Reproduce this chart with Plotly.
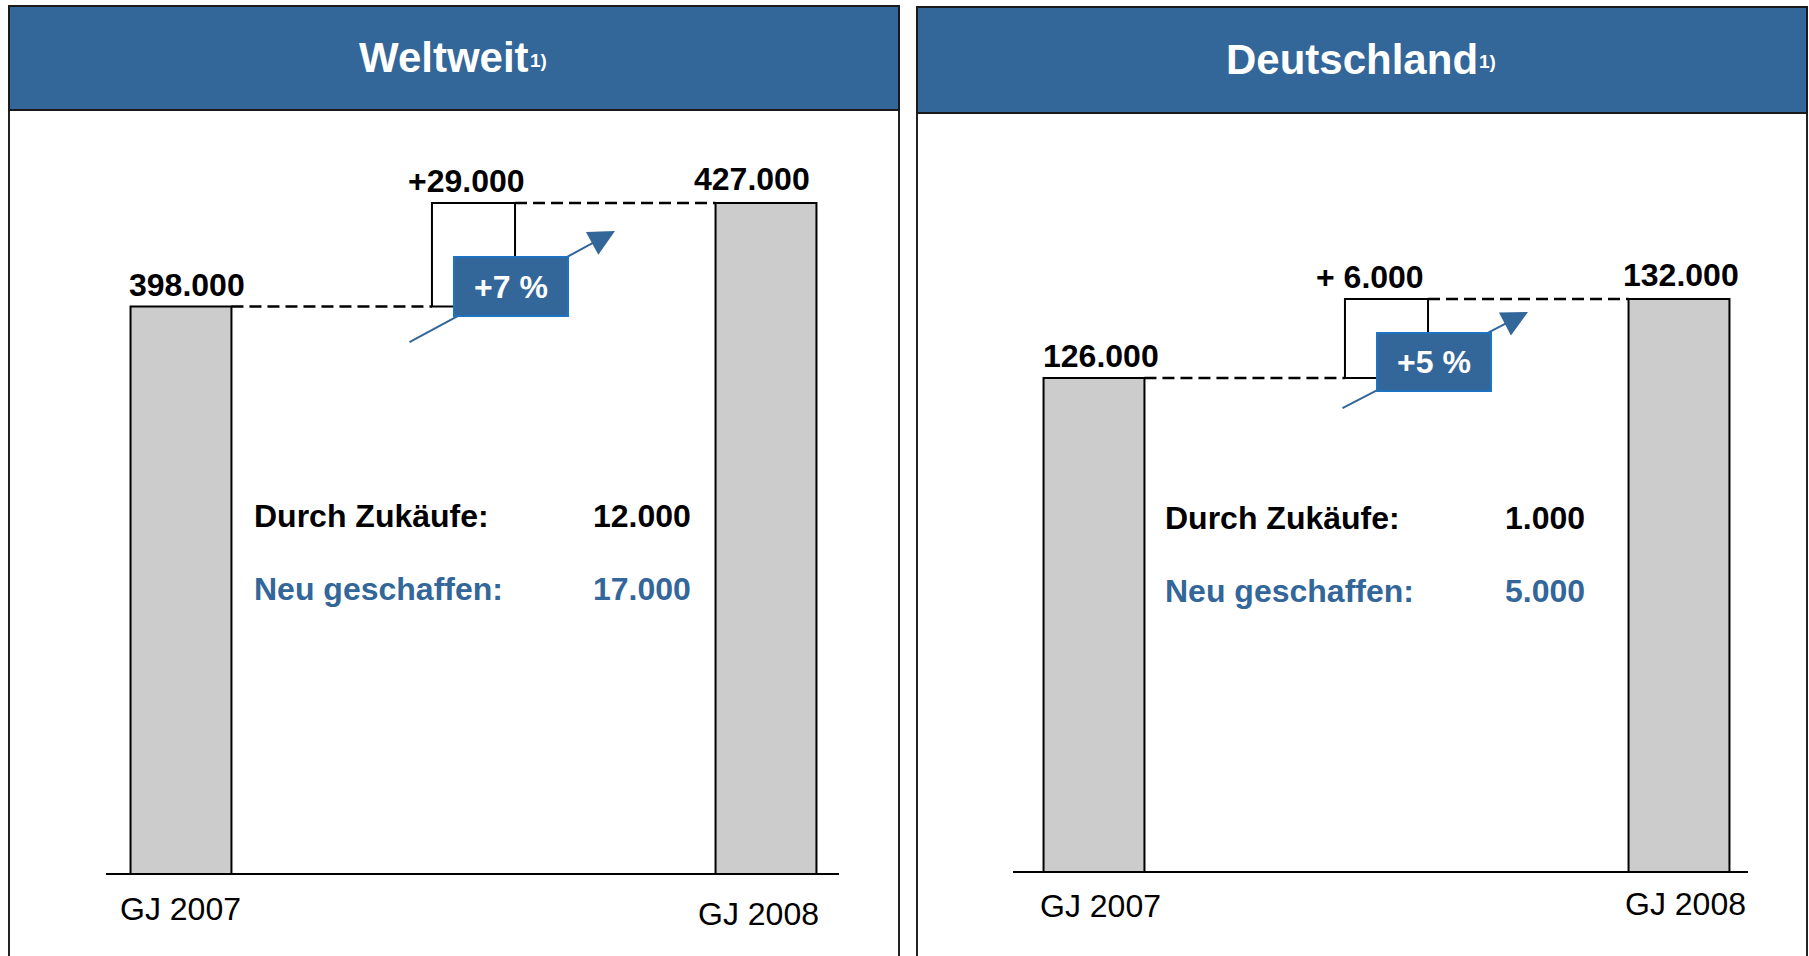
import plotly.graph_objects as go

# ---------------- data ----------------
panels = ["Weltweit", "Deutschland"]
years = ["GJ 2007", "GJ 2008"]
values_2007 = [398000, 126000]
values_2008 = [427000, 132000]
delta_labels = ["+29.000", "+ 6.000"]
pct_labels = ["+7 %", "+5 %"]
zukaeufe = [12000, 1000]
neu_geschaffen = [17000, 5000]

W, H = 1809, 956
FONT = "Liberation Sans, Arial, sans-serif"
BLUE = "#336699"
BOX_BORDER = "#1f74c2"
GREY = "#cccccc"
FS = 32


def px(x):
    return x / W


def py(y):
    return (H - y) / H


def fmt(v):
    return f"{v:,}".replace(",", ".")


BAR_W = 0.345
DELTA_W = 0.284

# layout geometry per panel (pixels)
geo = [
    dict(frame=(9, 899, 6, 110), xdom=(106, 839), xrange=(-0.2564, 2.2496),
         ydom=(873, 120), yrange=(239272, 450256),
         title_right=531, title_y=57, sup_y=61,
         label_shift=[(6, 0), (-7, 0), (-14, 2)],
         year_shift=[(-1, -36), (-7, -41)],
         box=(453, 569, 256, 317), arrow_tail=(408, 343), arrow_head=(615, 231),
         text_x=252, val_x=693, t1_y=516, t2_y=589),
    dict(frame=(917, 1807, 7, 113), xdom=(1013, 1748), xrange=(-0.2769, 2.2359),
         ydom=(871, 120), yrange=(88557, 145595),
         title_right=1480, title_y=59, sup_y=62,
         label_shift=[(7, 0), (-17, 0), (2, 2)],
         year_shift=[(7, -35), (6, -33)],
         box=(1376, 1492, 332, 392), arrow_tail=(1341, 409), arrow_head=(1528, 312),
         text_x=1163, val_x=1587, t1_y=518, t2_y=591),
]

fig = go.Figure()
shapes = []
annotations = []
layout_axes = {}

for i, g in enumerate(geo):
    xa = "x" if i == 0 else f"x{i+1}"
    ya = "y" if i == 0 else f"y{i+1}"
    v0, v1 = values_2007[i], values_2008[i]
    delta = v1 - v0

    # main bars
    fig.add_trace(go.Bar(
        x=[0, 2], y=[v0, v1], width=BAR_W,
        marker=dict(color=GREY, line=dict(color="black", width=2)),
        xaxis=xa, yaxis=ya, showlegend=False, hoverinfo="skip"))
    # delta floating bar
    fig.add_trace(go.Bar(
        x=[1], y=[delta], base=[v0], width=DELTA_W,
        marker=dict(color="white", line=dict(color="black", width=2)),
        xaxis=xa, yaxis=ya, showlegend=False, hoverinfo="skip"))
    # dashed connectors
    fig.add_trace(go.Scatter(
        x=[BAR_W / 2, 1 - DELTA_W / 2], y=[v0, v0], mode="lines",
        line=dict(color="black", width=2.4, dash="12px,6px"),
        xaxis=xa, yaxis=ya, showlegend=False, hoverinfo="skip"))
    fig.add_trace(go.Scatter(
        x=[1 + DELTA_W / 2, 2 - BAR_W / 2], y=[v1, v1], mode="lines",
        line=dict(color="black", width=2.4, dash="12px,6px"),
        xaxis=xa, yaxis=ya, showlegend=False, hoverinfo="skip"))

    xkey = "xaxis" if i == 0 else f"xaxis{i+1}"
    ykey = "yaxis" if i == 0 else f"yaxis{i+1}"
    layout_axes[xkey] = dict(
        domain=[px(g["xdom"][0]), px(g["xdom"][1])], range=list(g["xrange"]),
        anchor=ya, showgrid=False, zeroline=False, showline=True,
        linecolor="black", linewidth=2, ticks="", showticklabels=False,
        fixedrange=True)
    layout_axes[ykey] = dict(
        domain=[py(g["ydom"][0]), py(g["ydom"][1])], range=list(g["yrange"]),
        anchor=xa, visible=False, showgrid=False, zeroline=False, fixedrange=True)

    # category labels under the baseline
    for xv, yr, (dx, dy) in zip([0, 2], years, g["year_shift"]):
        annotations.append(dict(xref=xa, yref=f"{ya} domain", x=xv, y=0,
                                xanchor="center", yanchor="middle",
                                xshift=dx, yshift=dy, showarrow=False, text=yr,
                                font=dict(family=FONT, size=FS, color="black")))

    # panel frame and header
    fx0, fx1, fy0, fy1 = g["frame"]
    shapes.append(dict(type="rect", xref="paper", yref="paper",
                       x0=px(fx0), x1=px(fx1), y0=-0.02, y1=py(fy0),
                       line=dict(color="#222222", width=2), fillcolor="rgba(0,0,0,0)",
                       layer="below"))
    shapes.append(dict(type="rect", xref="paper", yref="paper",
                       x0=px(fx0), x1=px(fx1), y0=py(fy1), y1=py(fy0),
                       line=dict(color="#1a1a1a", width=2), fillcolor=BLUE,
                       layer="below"))
    annotations.append(dict(xref="paper", yref="paper", x=px(g["title_right"]),
                            y=py(g["title_y"]), xanchor="right", yanchor="middle",
                            text=f"<b>{panels[i]}</b>", showarrow=False,
                            font=dict(family=FONT, size=42, color="white")))
    annotations.append(dict(xref="paper", yref="paper", x=px(g["title_right"] - 3),
                            y=py(g["sup_y"]), xanchor="left", yanchor="middle",
                            text="<b>1)</b>", showarrow=False,
                            font=dict(family=FONT, size=19, color="white")))

    # value labels
    items = [(0, v0, fmt(v0)), (1, v1, delta_labels[i]), (2, v1, fmt(v1))]
    for (xv, yv, txt), (dx, dy) in zip(items, g["label_shift"]):
        annotations.append(dict(xref=xa, yref=ya, x=xv, y=yv, xanchor="center",
                                yanchor="bottom", xshift=dx, yshift=2 + dy,
                                showarrow=False, text=f"<b>{txt}</b>",
                                font=dict(family=FONT, size=FS, color="black")))

    # growth arrow (drawn first, box covers it)
    hx, hy = g["arrow_head"]
    tx, ty = g["arrow_tail"]
    annotations.append(dict(xref="paper", yref="paper", x=px(hx), y=py(hy),
                            ax=tx - hx, ay=ty - hy, text="", showarrow=True,
                            arrowhead=2, arrowsize=2.6, arrowwidth=2,
                            arrowcolor=BLUE, standoff=0, startstandoff=0))
    bx0, bx1, by0, by1 = g["box"]
    annotations.append(dict(xref="paper", yref="paper", x=px((bx0 + bx1) / 2),
                            y=py((by0 + by1) / 2), xanchor="center", yanchor="middle",
                            text=f"<b>{pct_labels[i]}</b>", showarrow=False,
                            width=bx1 - bx0 - 4, height=by1 - by0 - 4,
                            bgcolor=BLUE, bordercolor=BOX_BORDER, borderwidth=2,
                            borderpad=0,
                            font=dict(family=FONT, size=FS, color="white")))

    # detail texts
    annotations.append(dict(xref="paper", yref="paper", x=px(g["text_x"]),
                            y=py(g["t1_y"]), xanchor="left", yanchor="middle",
                            text="<b>Durch Zukäufe:</b>", showarrow=False,
                            font=dict(family=FONT, size=FS, color="black")))
    annotations.append(dict(xref="paper", yref="paper", x=px(g["val_x"]),
                            y=py(g["t1_y"]), xanchor="right", yanchor="middle",
                            text=f"<b>{fmt(zukaeufe[i])}</b>", showarrow=False,
                            font=dict(family=FONT, size=FS, color="black")))
    annotations.append(dict(xref="paper", yref="paper", x=px(g["text_x"]),
                            y=py(g["t2_y"]), xanchor="left", yanchor="middle",
                            text="<b>Neu geschaffen:</b>", showarrow=False,
                            font=dict(family=FONT, size=FS, color=BLUE)))
    annotations.append(dict(xref="paper", yref="paper", x=px(g["val_x"]),
                            y=py(g["t2_y"]), xanchor="right", yanchor="middle",
                            text=f"<b>{fmt(neu_geschaffen[i])}</b>", showarrow=False,
                            font=dict(family=FONT, size=FS, color=BLUE)))

fig.update_layout(
    width=W, height=H,
    margin=dict(l=0, r=0, t=0, b=0),
    paper_bgcolor="white", plot_bgcolor="rgba(0,0,0,0)",
    barmode="overlay", showlegend=False,
    shapes=shapes, annotations=annotations,
    font=dict(family=FONT),
    **layout_axes,
)

fig.write_html("out.html",
               config={"displayModeBar": False, "staticPlot": True},
               post_script="document.body.style.margin='0';"
                           "document.body.style.overflow='hidden';")
